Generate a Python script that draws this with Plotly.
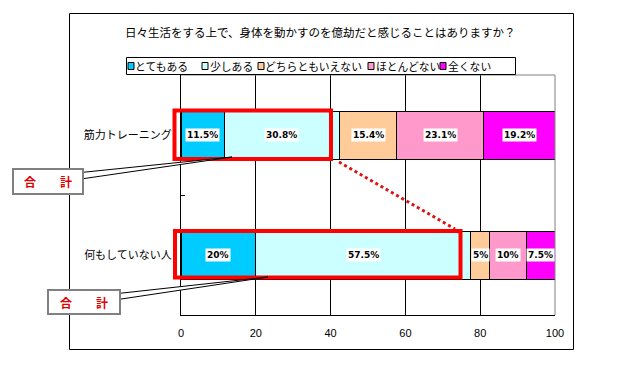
import plotly.graph_objects as go

# ---- data ----
categories = ["筋力トレーニング", "何もしていない人"]
series_names = ["とてもある", "少しある", "どちらともいえない", "ほとんどない", "全くない"]
series_values = [
    [11.5, 20.0],
    [30.8, 57.5],
    [15.4, 5.0],
    [23.1, 10.0],
    [19.2, 7.5],
]
value_labels = [
    ["11.5%", "20%"],
    ["30.8%", "57.5%"],
    ["15.4%", "5%"],
    ["23.1%", "10%"],
    ["19.2%", "7.5%"],
]
series_colors = ["#00CCFF", "#CCFFFF", "#FFCC99", "#FF99CC", "#FF00FF"]
x_ticks = [0, 20, 40, 60, 80, 100]
title_text = "日々生活をする上で、身体を動かすのを億劫だと感じることはありますか？"
callout_text = "合　　計"

W, H = 638, 365
ML, MR, MT, MB = 181, 83, 75, 50
PW, PH = W - ML - MR, H - MT - MB
JP = "Noto Sans CJK JP"


def px(x):
    return (x - ML) / PW


def py(y):
    return (H - MB - y) / PH


fig = go.Figure()
for name, vals, col in zip(series_names, series_values, series_colors):
    fig.add_trace(go.Bar(
        y=categories, x=vals, name=name, orientation="h",
        marker=dict(color=col, line=dict(color="black", width=1)),
        width=0.4, showlegend=False, hoverinfo="skip",
    ))

annotations = []
# data labels with white background
for ci, cat in enumerate(categories):
    cum = 0.0
    for si in range(len(series_names)):
        v = series_values[si][ci]
        annotations.append(dict(
            x=cum + v / 2, y=cat, xref="x", yref="y", text="<b>%s</b>" % value_labels[si][ci],
            xanchor="center", yanchor="middle",
            showarrow=False, bgcolor="white", borderpad=1,
            font=dict(family="DejaVu Sans", size=9, color="black"),
        ))
        cum += v

shapes = []
# outer chart border
shapes.append(dict(type="rect", xref="paper", yref="paper",
                   x0=px(69.5), x1=px(573.5), y0=py(349.5), y1=py(13.5),
                   line=dict(color="black", width=1), layer="below"))
# plot area top/right gray edges
shapes.append(dict(type="line", xref="paper", yref="paper", x0=0, x1=1, y0=1, y1=1,
                   line=dict(color="#808080", width=1)))
shapes.append(dict(type="line", xref="paper", yref="paper", x0=1, x1=1, y0=0, y1=1,
                   line=dict(color="#808080", width=1)))

# title
annotations.append(dict(x=px(320), y=py(32), xref="paper", yref="paper", text=title_text,
                        xanchor="center", yanchor="middle",
                        showarrow=False, font=dict(family=JP, size=11.5, color="black")))

# custom legend
shapes.append(dict(type="rect", xref="paper", yref="paper",
                   x0=px(126.5), x1=px(515.5), y0=py(74.5), y1=py(57.5),
                   line=dict(color="black", width=1), fillcolor="white"))
sq_x = [128, 202, 258, 368, 440]
tx_x = [133, 208, 263, 374, 446]
for name, col, sx, tx in zip(series_names, series_colors, sq_x, tx_x):
    shapes.append(dict(type="rect", xref="paper", yref="paper",
                       x0=px(sx), x1=px(sx + 6), y0=py(69.5), y1=py(62.5),
                       line=dict(color="black", width=1), fillcolor=col))
    annotations.append(dict(x=px(tx), y=py(66), xref="paper", yref="paper", text=name,
                            xanchor="left", yanchor="middle", showarrow=False,
                            font=dict(family=JP, size=10.8, color="black")))

# red highlight rectangles
for (x0, y0, x1, y1) in [(174.5, 110.5, 331, 159), (175, 231, 460.5, 277.5)]:
    shapes.append(dict(type="rect", xref="paper", yref="paper",
                       x0=px(x0), x1=px(x1), y0=py(y1), y1=py(y0),
                       line=dict(color="#FF0000", width=4)))
# red dotted connector
shapes.append(dict(type="line", xref="paper", yref="paper",
                   x0=px(339), y0=py(162), x1=px(455), y1=py(229),
                   line=dict(color="#DD1111", width=3, dash="dot")))

# callout wedges
for (ax, ay1, ay2, tipx, tipy) in [(83, 172.5, 179, 232, 157), (120, 293.5, 299.5, 268, 277)]:
    path = "M %f %f L %f %f L %f %f Z" % (px(ax - 2), py(ay1), px(tipx), py(tipy), px(ax - 2), py(ay2))
    shapes.append(dict(type="path", xref="paper", yref="paper", path=path,
                       line=dict(color="black", width=1), fillcolor="white"))

# callout boxes
for (cx, cy, w, h) in [(48, 181.5, 66, 21), (84, 302, 68, 20)]:
    annotations.append(dict(x=px(cx), y=py(cy), xref="paper", yref="paper",
                            xanchor="center", yanchor="middle",
                            text="<b>%s</b>" % callout_text, showarrow=False,
                            width=w, height=h, bgcolor="white", bordercolor="#808080",
                            borderwidth=2, font=dict(family=JP, size=12, color="#E00000")))

fig.update_layout(
    width=W, height=H, barmode="stack",
    margin=dict(l=ML, r=MR, t=MT, b=MB),
    paper_bgcolor="white", plot_bgcolor="white",
    showlegend=False,
    xaxis=dict(range=[0, 100], tickvals=x_ticks, ticktext=[str(t) for t in x_ticks],
               showgrid=True, gridcolor="black", gridwidth=1, zeroline=False,
               showline=True, linecolor="black", linewidth=1, ticks="",
               ticklabelstandoff=8,
               tickfont=dict(family="Liberation Sans", size=11, color="black")),
    yaxis=dict(type="category", categoryorder="array", categoryarray=categories,
               autorange="reversed", showgrid=False, zeroline=False,
               showline=True, linecolor="black", linewidth=1,
               ticks="inside", ticklen=4, tickcolor="black", tickson="boundaries",
               ticklabelstandoff=6,
               tickfont=dict(family=JP, size=11, color="black")),
    annotations=annotations, shapes=shapes,
)

fig.write_html("out.html", config={"displayModeBar": False},
               post_script="document.body.style.margin='0';document.body.style.overflow='hidden';")
